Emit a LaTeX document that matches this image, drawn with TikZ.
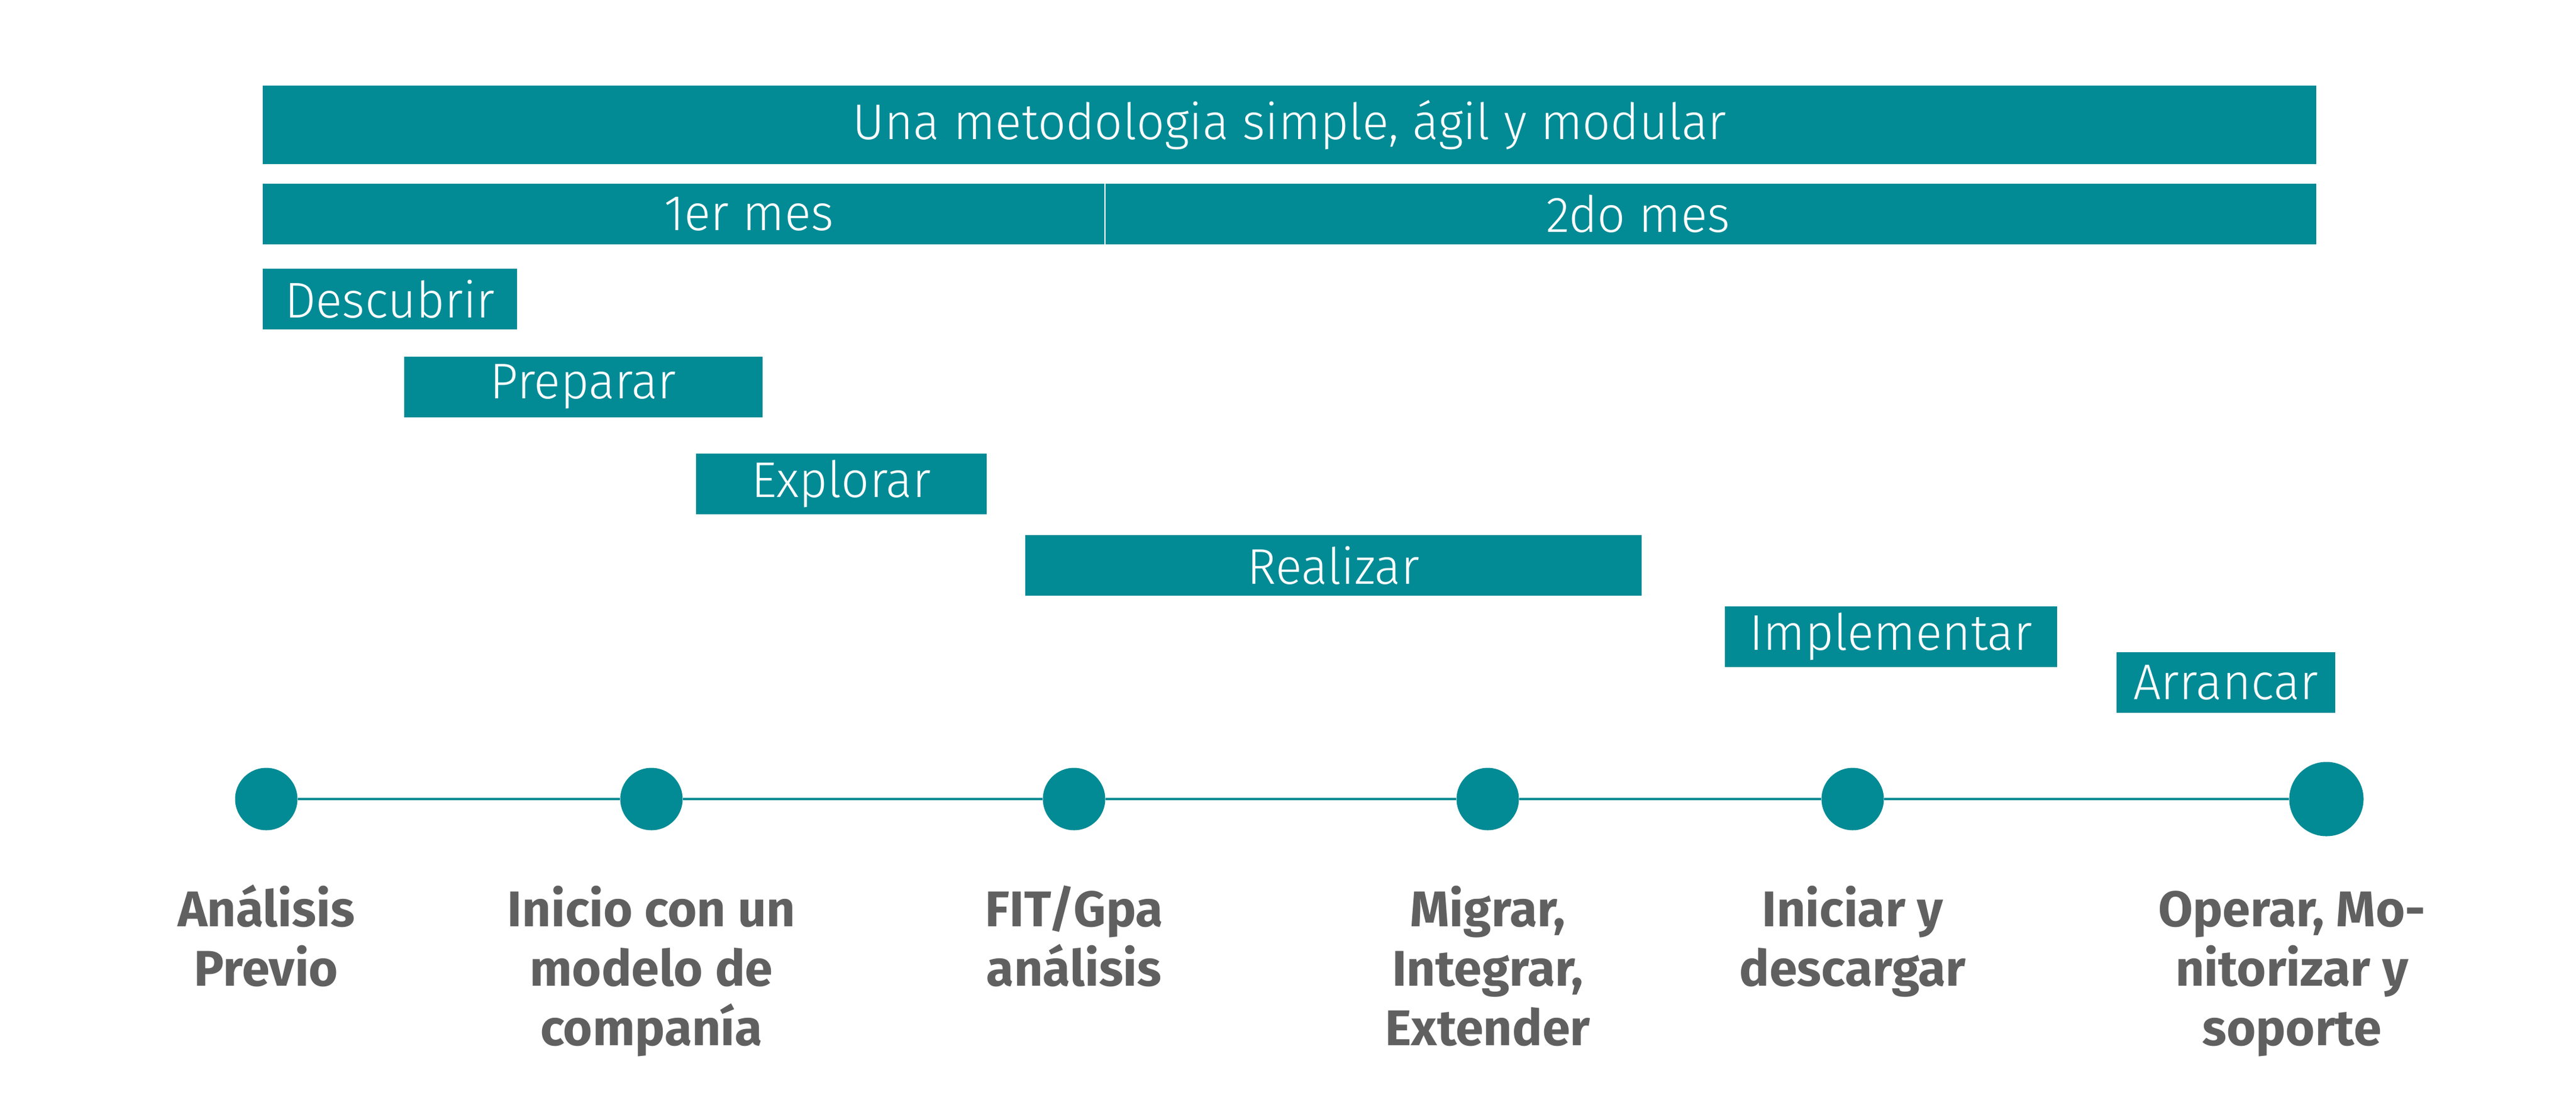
\documentclass[tikz,border=0pt]{standalone}
\usepackage{fontspec}
\setsansfont{Fira Sans}
\newfontfamily\thinfont[FakeStretch=0.98]{Fira Sans Light}
\newfontfamily\labelfont{Fira Sans}
\usetikzlibrary{positioning}
\definecolor{petrol}{RGB}{2,139,149}
\definecolor{labelgray}{RGB}{96,96,96}

\begin{document}
\begin{tikzpicture}[
		bar/.style={rectangle, fill=petrol, inner sep=0pt, minimum width=345.5mm, minimum height=13.2mm},
		phase/.style={rectangle, fill=petrol, inner sep=0pt, minimum height=10.2mm, anchor=north west, text=white, font=\thinfont\fontsize{24}{28}\selectfont},
		bartext/.style={text=white, font=\thinfont\fontsize{24}{28}\selectfont},
		dot/.style={circle, fill=petrol, inner sep=0pt, minimum size=10.5mm},
		bigdot/.style={dot, minimum size=12.5mm},
		milestone/.style={align=center, inner sep=0pt, anchor=base, text=labelgray, font=\labelfont\bfseries\fontsize{24}{28.45}\selectfont}
	]
	\useasboundingbox (0,0) rectangle (43.34,-18.61);

	\node[bar, bartext] (method) at (21.695,-2.10) {Una metodologia simple, ágil y modular};
	\node[bar, minimum height=10.2mm] (month) at (21.695,-3.60) {};
	\coordinate (split) at (18.59,-3.60);
	\draw[white, line width=0.8pt] (split |- month.north) -- (split |- month.south);
	\node[bartext] (mes1) at (12.60,-3.60) {1er mes};
	\node[bartext] (mes2) at (27.56,-3.60) {2do mes};

	\node[phase, minimum width=42.8mm] (descubrir) at (4.41,-4.51) {Descubrir};
	\node[phase, minimum width=60.3mm] (preparar) at (6.79,-5.99) {Preparar};
	\node[phase, minimum width=48.9mm] (explorar) at (11.70,-7.62) {Explorar};
	\node[phase, minimum width=103.7mm] (realizar) at (17.24,-8.99) {Realizar};
	\node[phase, minimum width=55.9mm] (implementar) at (29.01,-10.19) {Implementar};
	\node[phase, minimum width=36.8mm] (arrancar) at (35.60,-10.96) {Arrancar};

	\foreach \i/\x in {1/4.48, 2/10.96, 3/18.07, 4/25.03, 5/31.17}
		\node[dot] (d\i) at (\x,-13.44) {};
	\node[bigdot] (d6) at (39.14,-13.44) {};

	\foreach \i/\j in {1/2, 2/3, 3/4, 4/5, 5/6}
		\draw[petrol, line width=1.2pt] (d\i) -- (d\j);

	% base anchor sits on the last line
	\foreach \i/\y/\txt in {1/-16.58/{Análisis\\Previo}, 2/-17.58/{Inicio con un\\modelo de\\companía}, 3/-16.58/{FIT/Gpa\\análisis}, 4/-17.58/{Migrar,\\Integrar,\\Extender}, 5/-16.58/{Iniciar y\\descargar}}
		\node[milestone] (m\i) at (d\i |- 0,\y) {\txt};
	\node[milestone, xshift=-5.8mm] (m6) at (d6 |- 0,-17.58) {Operar, Mo-\\nitorizar y\\soporte};

\end{tikzpicture}
\end{document}
